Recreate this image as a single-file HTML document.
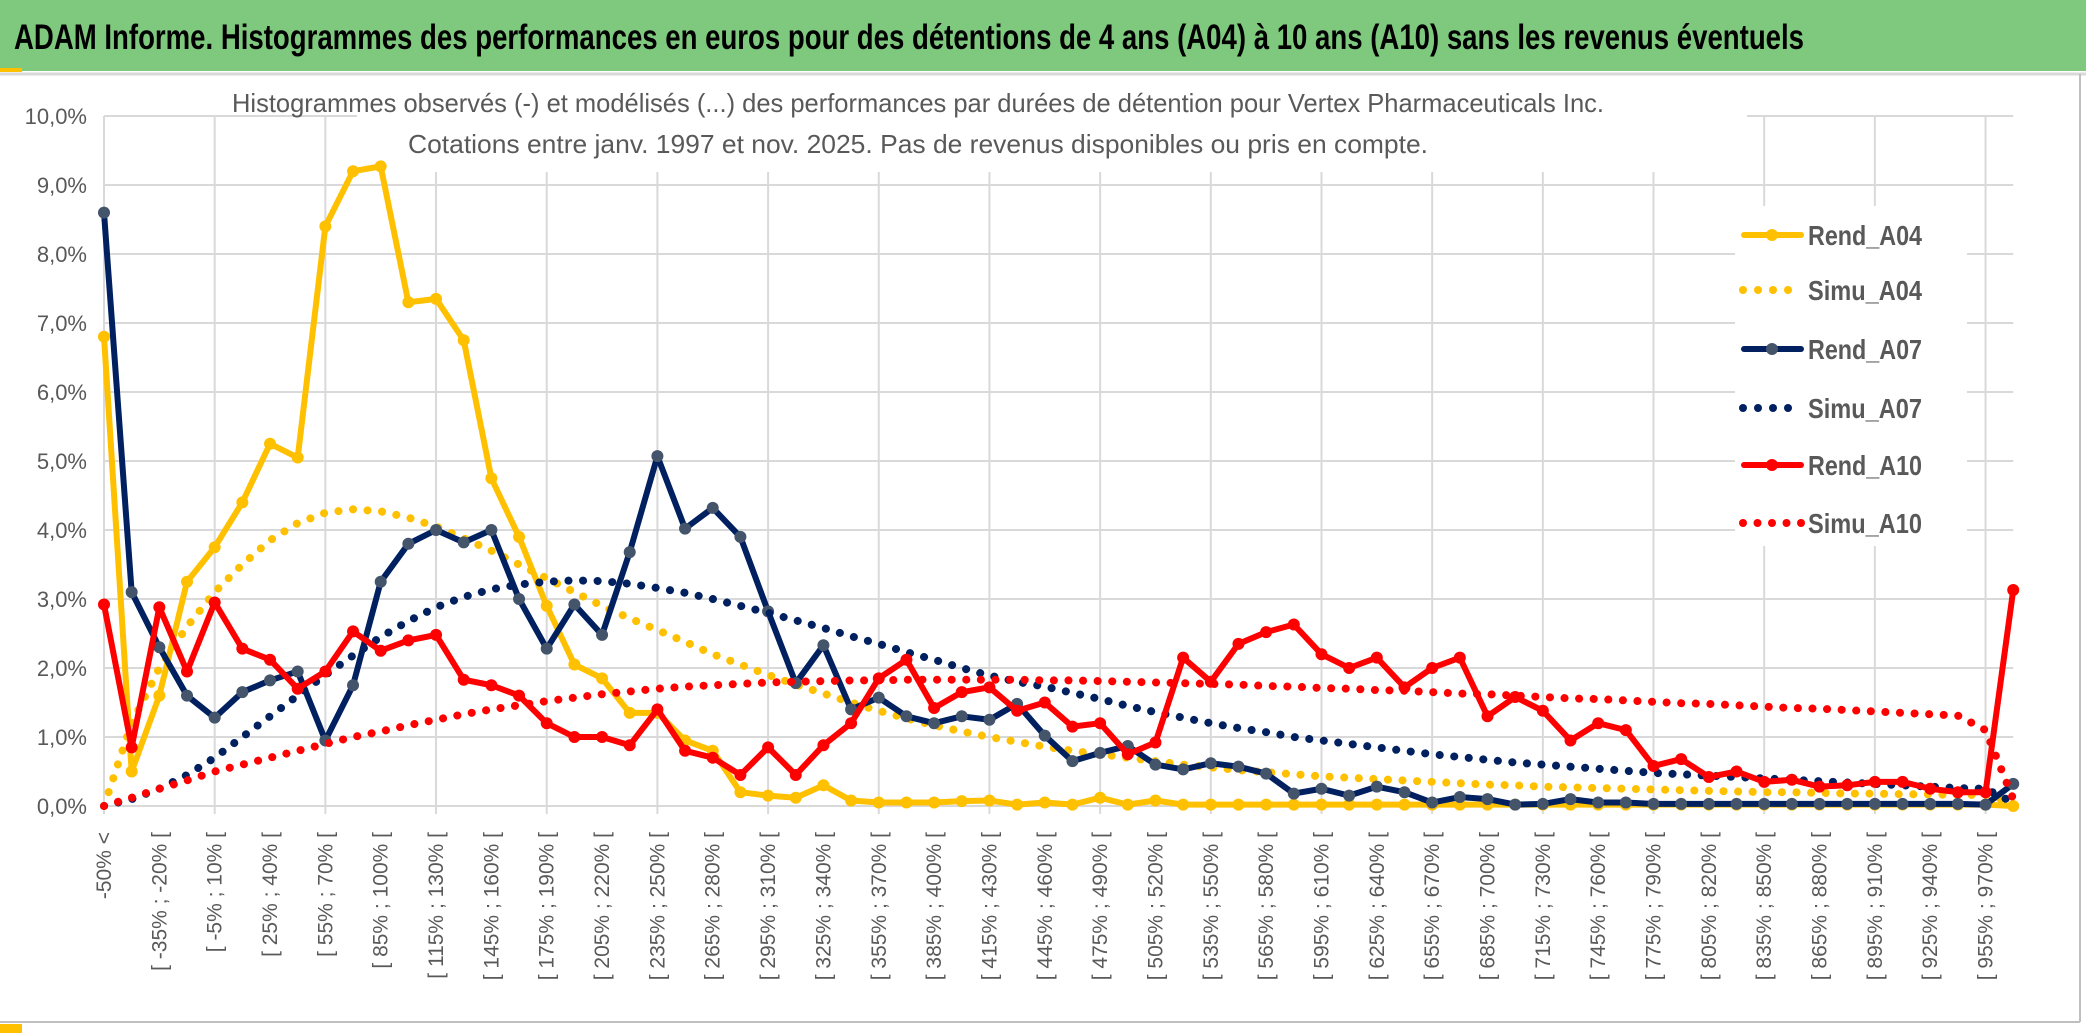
<!DOCTYPE html>
<html><head><meta charset="utf-8">
<style>
html,body{margin:0;padding:0;background:#fff;}
svg{display:block;font-family:"Liberation Sans",sans-serif;}
</style></head>
<body>
<svg id="chart" width="2086" height="1033" viewBox="0 0 2086 1033" xmlns="http://www.w3.org/2000/svg">
  <rect x="0" y="0" width="2086" height="1033" fill="#fff"/>
  <rect x="0" y="0" width="2086" height="71" fill="#7fc97f"/>
  <rect x="0" y="68" width="22" height="4" fill="#ffc000"/>
  <line x1="0" y1="74" x2="2086" y2="74" stroke="#d9d9d9" stroke-width="3"/>
  <text x="14" y="49" font-size="35" font-weight="bold" fill="#000" textLength="1790" lengthAdjust="spacingAndGlyphs">ADAM Informe. Histogrammes des performances en euros pour des détentions de 4 ans (A04) à 10 ans (A10) sans les revenus éventuels</text>
  <line x1="2080" y1="74" x2="2080" y2="1022" stroke="#bfbfbf" stroke-width="2"/>
  <line x1="0" y1="1022" x2="2080" y2="1022" stroke="#bfbfbf" stroke-width="2"/>
  <rect x="0" y="1024" width="22" height="9" fill="#ffc000"/>
  <g id="grid"></g>
  <rect x="357" y="80" width="1390" height="92" fill="#fff"/>
  <text x="918" y="112" font-size="26" fill="#595959" text-anchor="middle" textLength="1372" lengthAdjust="spacingAndGlyphs">Histogrammes observés (-) et modélisés (...) des performances par durées de détention pour Vertex Pharmaceuticals Inc.</text>
  <text x="918" y="153" font-size="26" fill="#595959" text-anchor="middle" textLength="1020" lengthAdjust="spacingAndGlyphs">Cotations entre janv. 1997 et nov. 2025. Pas de revenus disponibles ou pris en compte.</text>
  <g id="yaxis"></g>
  <g id="xaxis"></g>
  <g id="series"></g>
  <g id="legend"></g>
</svg>
<script>
const categories = (function(){const c=["-50% <"];for(let i=1;i<69;i++){const a=-50+15*(i-1);c.push("[ "+a+"% ; "+(a+15)+"% [");}c.push("970% <");return c;})();
const yTicks = [0,1,2,3,4,5,6,7,8,9,10];
const yTickLabels = ["0,0%","1,0%","2,0%","3,0%","4,0%","5,0%","6,0%","7,0%","8,0%","9,0%","10,0%"];
const seriesNames = ["Rend_A04","Simu_A04","Rend_A07","Simu_A07","Rend_A10","Simu_A10"];
const rendA04 = [6.8,0.5,1.6,3.25,3.75,4.4,5.25,5.05,8.4,9.2,9.27,7.3,7.35,6.75,4.75,3.9,2.9,2.05,1.85,1.35,1.35,0.95,0.8,0.2,0.15,0.12,0.3,0.08,0.05,0.05,0.05,0.07,0.08,0.02,0.05,0.02,0.12,0.02,0.08,0.02,0.02,0.02,0.02,0.02,0.02,0.02,0.02,0.02,0.02,0.02,0.02,0.02,0.02,0.02,0.02,0.02,0.02,0.02,0.02,0.02,0.02,0.02,0.02,0.02,0.02,0.02,0.02,0.02,0.02,0.0];
const simuA04 = [0,1.2,2.0,2.6,3.1,3.5,3.85,4.1,4.25,4.3,4.27,4.18,4.05,3.88,3.7,3.5,3.3,3.1,2.9,2.72,2.55,2.38,2.2,2.05,1.9,1.76,1.63,1.5,1.38,1.27,1.17,1.08,1.0,0.93,0.86,0.8,0.75,0.7,0.65,0.6,0.56,0.52,0.49,0.46,0.43,0.41,0.39,0.37,0.35,0.33,0.31,0.3,0.28,0.27,0.26,0.25,0.24,0.23,0.22,0.21,0.2,0.2,0.19,0.18,0.18,0.17,0.17,0.16,0.16,0.05];
const rendA07 = [8.6,3.1,2.3,1.6,1.28,1.65,1.82,1.95,0.95,1.75,3.25,3.8,4.0,3.82,4.0,3.0,2.28,2.92,2.48,3.68,5.07,4.02,4.32,3.9,2.82,1.78,2.33,1.4,1.57,1.3,1.2,1.3,1.25,1.48,1.02,0.65,0.77,0.87,0.6,0.53,0.62,0.57,0.47,0.18,0.25,0.15,0.28,0.2,0.05,0.13,0.1,0.02,0.03,0.1,0.05,0.05,0.03,0.03,0.03,0.03,0.03,0.03,0.03,0.03,0.03,0.03,0.03,0.03,0.02,0.32];
const simuA07 = [0,0.1,0.25,0.45,0.7,1.0,1.3,1.6,1.9,2.18,2.45,2.68,2.88,3.03,3.14,3.21,3.25,3.27,3.26,3.22,3.16,3.09,3.0,2.9,2.8,2.69,2.58,2.46,2.35,2.23,2.12,2.0,1.89,1.8,1.73,1.64,1.55,1.45,1.36,1.28,1.2,1.13,1.07,1.0,0.95,0.9,0.85,0.8,0.75,0.71,0.67,0.63,0.6,0.57,0.54,0.51,0.48,0.46,0.44,0.42,0.4,0.38,0.36,0.34,0.32,0.3,0.28,0.26,0.25,0.05];
const rendA10 = [2.92,0.85,2.88,1.95,2.95,2.28,2.12,1.7,1.95,2.53,2.25,2.4,2.48,1.83,1.75,1.6,1.2,1.0,1.0,0.88,1.4,0.8,0.7,0.45,0.85,0.45,0.88,1.2,1.85,2.12,1.42,1.65,1.72,1.38,1.5,1.15,1.2,0.75,0.92,2.15,1.8,2.35,2.52,2.63,2.2,2.0,2.15,1.72,2.0,2.15,1.3,1.58,1.38,0.95,1.2,1.1,0.58,0.68,0.42,0.5,0.35,0.38,0.28,0.3,0.35,0.35,0.25,0.2,0.2,3.13];
const simuA10 = [0,0.12,0.25,0.37,0.5,0.6,0.7,0.8,0.9,1.0,1.08,1.17,1.25,1.33,1.4,1.46,1.52,1.57,1.62,1.66,1.7,1.73,1.75,1.77,1.79,1.8,1.81,1.82,1.82,1.83,1.83,1.83,1.83,1.83,1.82,1.82,1.81,1.8,1.79,1.78,1.77,1.76,1.74,1.73,1.71,1.7,1.68,1.67,1.65,1.63,1.62,1.6,1.58,1.56,1.55,1.53,1.51,1.49,1.48,1.46,1.44,1.42,1.41,1.39,1.37,1.35,1.33,1.31,1.1,0.1];

const NS="http://www.w3.org/2000/svg";
const X0=104, DX=27.67, Y0=806, DY=69;
function xs(i){return X0+DX*i;}
function ys(v){return Y0-DY*v;}
function mk(tag,attrs,parent){const e=document.createElementNS(NS,tag);for(const k in attrs)e.setAttribute(k,attrs[k]);parent.appendChild(e);return e;}
const n=categories.length;
const xEnd=xs(n-1);

const grid=document.getElementById('grid');
yTicks.forEach(function(t){
  const l=mk('line',{x1:xs(0),x2:xEnd,y1:ys(t),y2:ys(t),stroke:'#d9d9d9','stroke-width':2},grid);
  
  
});
for(let i=0;i<n;i+=4){
  const l=mk('line',{x1:xs(i),x2:xs(i),y1:ys(10),y2:ys(0)+8,stroke:'#d9d9d9','stroke-width':2},grid);
  
  
}

const ya=document.getElementById('yaxis');
yTicks.forEach(function(t,k){
  const tx=mk('text',{x:87,y:ys(t)+8,'font-size':22,fill:'#595959','text-anchor':'end'},ya);
  tx.textContent=yTickLabels[k];
  
  
});

const xa=document.getElementById('xaxis');
for(let i=0;i<n;i+=2){
  const x=xs(i)+7, y=832;
  const tx=mk('text',{x:x,y:y,'font-size':21,fill:'#595959','text-anchor':'end',transform:'rotate(-90 '+x+' '+y+')'},xa);
  tx.textContent=categories[i];
  
  
}

const sg=document.getElementById('series');
function solid(data,color,mfill,name){
  const g=mk('g',{},sg);
  
  
  const p=mk('polyline',{points:data.map(function(v,i){return xs(i)+','+ys(v);}).join(' '),fill:'none',stroke:color,'stroke-width':6,'stroke-linejoin':'round','stroke-linecap':'round'},g);
  
  
  data.forEach(function(v,i){
    const c=mk('circle',{cx:xs(i),cy:ys(v),r:6,fill:mfill},g);
    
    
  });
}
function dotted(data,color,name){
  const p=mk('polyline',{points:data.map(function(v,i){return xs(i)+','+ys(v);}).join(' '),fill:'none',stroke:color,'stroke-width':8,'stroke-linecap':'round','stroke-dasharray':'0.1 14.5'},sg);
  
  
}
solid(rendA04,'#ffc000','#ffc000','rend-a04');
dotted(simuA04,'#ffc000','simu-a04');
solid(rendA07,'#002060','#44546a','rend-a07');
dotted(simuA07,'#002060','simu-a07');
solid(rendA10,'#ff0000','#ff0000','rend-a10');
dotted(simuA10,'#ff0000','simu-a10');

const lg=document.getElementById('legend');
const lbg=mk('rect',{x:1735,y:206,width:232,height:340,fill:'#fff'},lg);


const lcolors=['#ffc000','#ffc000','#002060','#002060','#ff0000','#ff0000'];
const lys=[235,290,349,408,465,523];
seriesNames.forEach(function(nm,k){
  const y=lys[k];
  const g=mk('g',{},lg);
  
  
  if(k%2===0){
    mk('line',{x1:1744,x2:1801,y1:y,y2:y,stroke:lcolors[k],'stroke-width':6,'stroke-linecap':'round'},g);
    mk('circle',{cx:1772,cy:y,r:6,fill:k===2?'#44546a':lcolors[k]},g);
  } else {
    const cnt=k===5?5:4;
    for(let d=0;d<cnt;d++) mk('circle',{cx:1743+d*(k===5?14.5:15),cy:y,r:4,fill:lcolors[k]},g);
  }
  const t=mk('text',{x:1808,y:y+10,'font-size':28,'font-weight':'bold',fill:'#595959',textLength:114,lengthAdjust:'spacingAndGlyphs'},g);
  t.textContent=nm;
});
</script>
</body></html>
